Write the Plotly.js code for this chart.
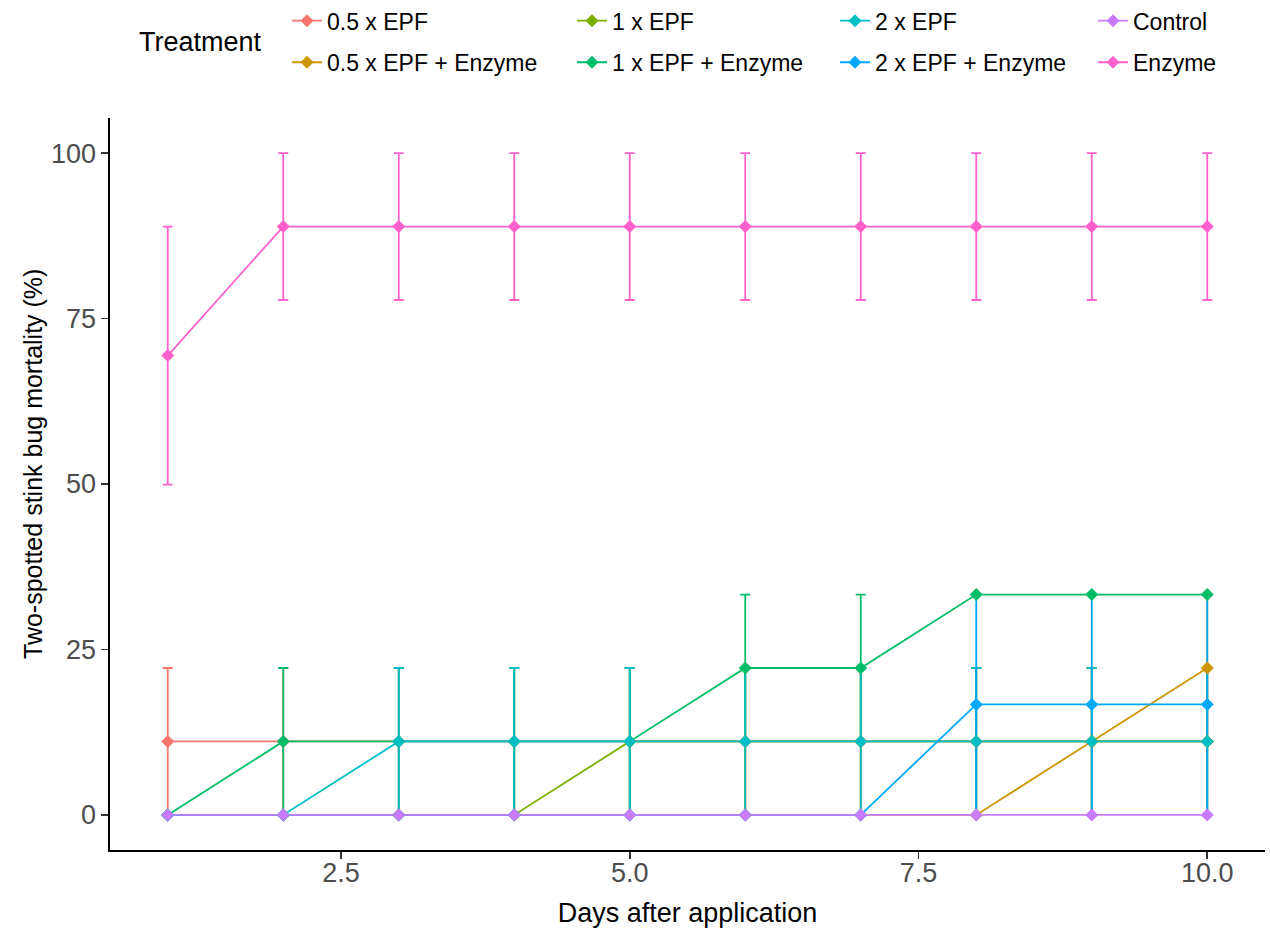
<!DOCTYPE html>
<html><head><meta charset="utf-8">
<script src="https://cdn.plot.ly/plotly-3.0.1.min.js"></script>
<style>html,body{margin:0;padding:0;background:#fff}#chart{width:1270px;height:928px}</style>
</head><body><div id="chart"></div>
<script>
// ---- data ----
const days = [1, 2, 3, 4, 5, 6, 7, 8, 9, 10];
const treatments = ["0.5 x EPF", "0.5 x EPF + Enzyme", "1 x EPF", "1 x EPF + Enzyme",
                    "2 x EPF", "2 x EPF + Enzyme", "Control", "Enzyme"];
const mean_05EPF    = [11.1, 11.1, 11.1, 11.1, 11.1, 11.1, 11.1, 11.1, 11.1, 11.1];
const se_05EPF      = [11.1, 11.1, 11.1, 11.1, 11.1, 11.1, 11.1, 11.1, 11.1, 11.1];
const mean_05EPFEnz = [0, 0, 0, 0, 0, 0, 0, 0, 11.1, 22.2];
const se_05EPFEnz   = [0, 0, 0, 0, 0, 0, 0, 0, 11.1, 11.1];
const mean_1EPF     = [0, 0, 0, 0, 11.1, 11.1, 11.1, 11.1, 11.1, 11.1];
const se_1EPF       = [0, 0, 0, 0, 11.1, 11.1, 11.1, 11.1, 11.1, 11.1];
const mean_1EPFEnz  = [0, 11.1, 11.1, 11.1, 11.1, 22.2, 22.2, 33.3, 33.3, 33.3];
const se_1EPFEnz    = [0, 11.1, 11.1, 11.1, 11.1, 11.1, 11.1, 0, 0, 0];
const mean_2EPF     = [0, 0, 11.1, 11.1, 11.1, 11.1, 11.1, 11.1, 11.1, 11.1];
const se_2EPF       = [0, 0, 11.1, 11.1, 11.1, 11.1, 11.1, 11.1, 11.1, 11.1];
const mean_2EPFEnz  = [0, 0, 0, 0, 0, 0, 0, 16.7, 16.7, 16.7];
const se_2EPFEnz    = [0, 0, 0, 0, 0, 0, 0, 16.7, 16.7, 16.7];
const mean_Control  = [0, 0, 0, 0, 0, 0, 0, 0, 0, 0];
const se_Control    = [0, 0, 0, 0, 0, 0, 0, 0, 0, 0];
const mean_Enzyme   = [69.4, 88.9, 88.9, 88.9, 88.9, 88.9, 88.9, 88.9, 88.9, 88.9];
const se_Enzyme     = [19.5, 11.1, 11.1, 11.1, 11.1, 11.1, 11.1, 11.1, 11.1, 11.1];
const xTickVals = [2.5, 5, 7.5, 10];
const xTickText = ["2.5", "5.0", "7.5", "10.0"];
const yTickVals = [0, 25, 50, 75, 100];

const means = [mean_05EPF, mean_05EPFEnz, mean_1EPF, mean_1EPFEnz, mean_2EPF, mean_2EPFEnz, mean_Control, mean_Enzyme];
const ses   = [se_05EPF, se_05EPFEnz, se_1EPF, se_1EPFEnz, se_2EPF, se_2EPFEnz, se_Control, se_Enzyme];

// ---- style ----
const colors = ["#F8766D", "#CD9600", "#7CAE00", "#00BE67", "#00BFC4", "#00A9FF", "#C77CFF", "#FF61CC"];
const FONT = '"Liberation Sans", Arial, sans-serif';
const LW = 1.8;
const legTextX = [328, 613, 876, 1134];
const legRowY = [20.7, 62.3];
const PL = 110, PR = 5, PT = 118, PB = 78;
const PW = 1270 - PL - PR, PH = 928 - PT - PB;

const errTraces = [], lineTraces = [], ptTraces = [], legTraces = [];
treatments.forEach((name, i) => {
  const errs = ses[i].map(v => v === 0 ? NaN : v);
  errTraces.push({
    x: days, y: means[i], type: 'scatter', mode: 'markers',
    marker: {size: 1, opacity: 0, color: colors[i]},
    error_y: {type: 'data', array: errs, symmetric: true, color: colors[i], thickness: LW, width: 5},
    showlegend: false, hoverinfo: 'skip'
  });
  lineTraces.push({
    x: days, y: means[i], type: 'scatter', mode: 'lines',
    line: {color: colors[i], width: LW}, showlegend: false, hoverinfo: 'skip'
  });
  ptTraces.push({
    x: days, y: means[i], type: 'scatter', mode: 'markers', name: name,
    marker: {symbol: 'diamond', size: 10, color: colors[i]}, showlegend: false
  });
  legTraces.push({
    x: [null], y: [null], type: 'scatter', mode: 'lines+markers', name: name,
    line: {color: colors[i], width: LW}, marker: {symbol: 'diamond', size: 10, color: colors[i]},
    legend: i === 0 ? 'legend' : 'legend' + (i + 1), showlegend: true, hoverinfo: 'skip'
  });
});

const axisCommon = {
  showline: true, linecolor: '#000', linewidth: 1.6, mirror: false,
  ticks: 'outside', ticklen: 7, tickwidth: 1.6, tickcolor: '#333',
  showgrid: false, zeroline: false,
  tickfont: {family: FONT, size: 27, color: '#4d4d4d'}
};

const layout = {
  width: 1270, height: 928,
  paper_bgcolor: '#fff', plot_bgcolor: '#fff',
  margin: {l: PL, r: PR, t: PT, b: PB, autoexpand: false},
  font: {family: FONT, color: '#000'},
  xaxis: Object.assign({}, axisCommon, {
    range: [0.5, 10.5], tickvals: xTickVals, ticktext: xTickText, tickangle: 0,
    ticklabelstandoff: -9,
    title: {text: 'Days after application', font: {family: FONT, size: 27, color: '#000'}}
  }),
  yaxis: Object.assign({}, axisCommon, {
    range: [-5.3, 105.3], tickvals: yTickVals
  }),
  annotations: [{
    text: 'Treatment', xref: 'paper', yref: 'paper', showarrow: false,
    x: (137 - PL) / PW, y: 1 + (PT - 41.7) / PH, xanchor: 'left', yanchor: 'middle',
    font: {family: FONT, size: 27, color: '#000'}
  }, {
    text: 'Two-spotted stink bug mortality (%)', xref: 'paper', yref: 'paper', showarrow: false,
    x: (33 - PL) / PW, y: 1 - (464 - PT) / PH, xanchor: 'center', yanchor: 'middle', textangle: -90,
    font: {family: FONT, size: 25, color: '#000'}
  }],
  showlegend: true
};
treatments.forEach((name, i) => {
  const col = Math.floor(i / 2), row = i % 2;
  layout[i === 0 ? 'legend' : 'legend' + (i + 1)] = {
    xref: 'container', yref: 'container',
    x: (legTextX[col] - 41) / 1270, y: 1 - legRowY[row] / 928,
    xanchor: 'left', yanchor: 'middle', orientation: 'v',
    bgcolor: 'rgba(0,0,0,0)', borderwidth: 0,
    font: {family: FONT, size: 23, color: '#000'}
  };
});

Plotly.newPlot('chart', errTraces.concat(lineTraces, ptTraces, legTraces), layout, {displayModeBar: false, staticPlot: true});
</script>
</body></html>
